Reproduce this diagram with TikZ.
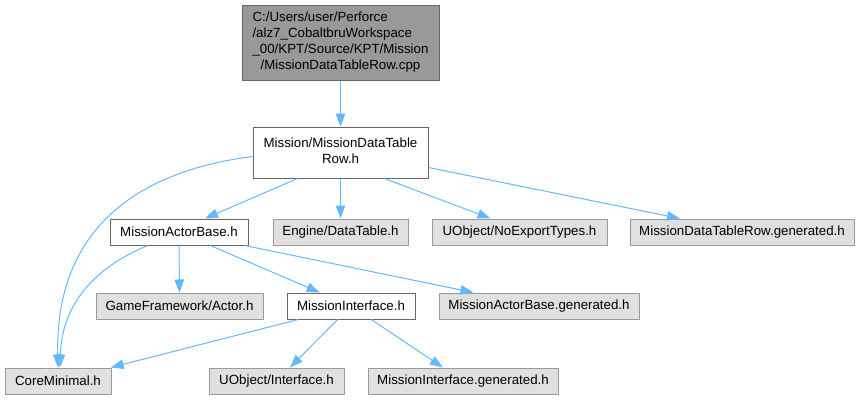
\documentclass[tikz,border=0pt]{standalone}
\usepackage{fontspec}
\setmainfont{Liberation Sans}
\usetikzlibrary{arrows.meta,calc}
\definecolor{edgeblue}{HTML}{63B8FF}
\definecolor{extfill}{HTML}{E0E0E0}
\definecolor{extline}{HTML}{999999}
\definecolor{topfill}{HTML}{999999}
\definecolor{darkline}{HTML}{666666}
\begin{document}
\begin{tikzpicture}[x=1pt,y=-1pt,
  every node/.style={font=\fontsize{13.3}{16}\selectfont, inner sep=0pt, line width=1pt, text=black},
  extbox/.style={draw=extline, fill=extfill, minimum height=26pt},
  localbox/.style={draw=darkline, fill=white, minimum height=26pt},
  topbox/.style={draw=darkline, fill=topfill},
  dep/.style={draw=edgeblue, line width=1pt, -{Triangle[length=13pt,width=9.5pt]}}
]
\useasboundingbox (0,0) rectangle (859,400);

\node[topbox, minimum width=197pt, minimum height=75pt] (top) at (340.5,42.5)
  {\begin{tabular}{@{}l@{}}C:/Users/user/Perforce\\/alz7\_CobaltbruWorkspace\\\_00/KPT/Source/KPT/Mission\\\multicolumn{1}{@{}c@{}}{/MissionDataTableRow.cpp}\end{tabular}};
\node[localbox, minimum width=175pt, minimum height=51pt] (mdtr) at (340.5,152.5)
  {\begin{tabular}{@{}l@{}}Mission/MissionDataTable\\\multicolumn{1}{@{}c@{}}{Row.h}\end{tabular}};

\node[localbox, minimum width=138pt] (mab) at (179,232) {MissionActorBase.h};
\node[extbox, minimum width=135pt] (engine) at (340.5,232) {Engine/DataTable.h};
\node[extbox, minimum width=175pt] (noexp) at (519.5,232) {UObject/NoExportTypes.h};
\node[extbox, minimum width=224pt] (dtrgen) at (742,232) {MissionDataTableRow.generated.h};

\node[extbox, minimum width=167pt] (actor) at (179.5,306) {GameFramework/Actor.h};
\node[localbox, minimum width=128pt] (mi) at (351,306) {MissionInterface.h};
\node[extbox, minimum width=200pt] (mabgen) at (539,306) {MissionActorBase.generated.h};

\node[extbox, minimum width=106pt] (cm) at (58,381) {CoreMinimal.h};
\node[extbox, minimum width=135pt] (uint) at (276.5,381) {UObject/Interface.h};
\node[extbox, minimum width=190pt] (migen) at (463,381) {MissionInterface.generated.h};

\draw[dep] (top) -- (mdtr);
\draw[dep] ($(mdtr.west)+(0,4)$) .. controls (130,172) and (55,235) .. (cm.north);
\draw[dep] ($(mdtr.south)+(-43,0)$) -- ($(mab.north)+(26,0)$);
\draw[dep] (mdtr) -- (engine);
\draw[dep] ($(mdtr.south)+(44,0)$) -- ($(noexp.north)+(-29,0)$);
\draw[dep] ($(mdtr.east)+(0,15)$) -- ($(dtrgen.north)+(-62,0)$);

\draw[dep] ($(mab.south)+(-31,0)$) .. controls (100,265) and (62,300) .. ($(cm.north)+(2,0)$);
\draw[dep] (mab) -- (actor);
\draw[dep] (mab) -- (mi);
\draw[dep] (mab) -- (mabgen);

\draw[dep] (mi) -- (cm);
\draw[dep] (mi) -- (uint);
\draw[dep] (mi) -- (migen);
\end{tikzpicture}
\end{document}
